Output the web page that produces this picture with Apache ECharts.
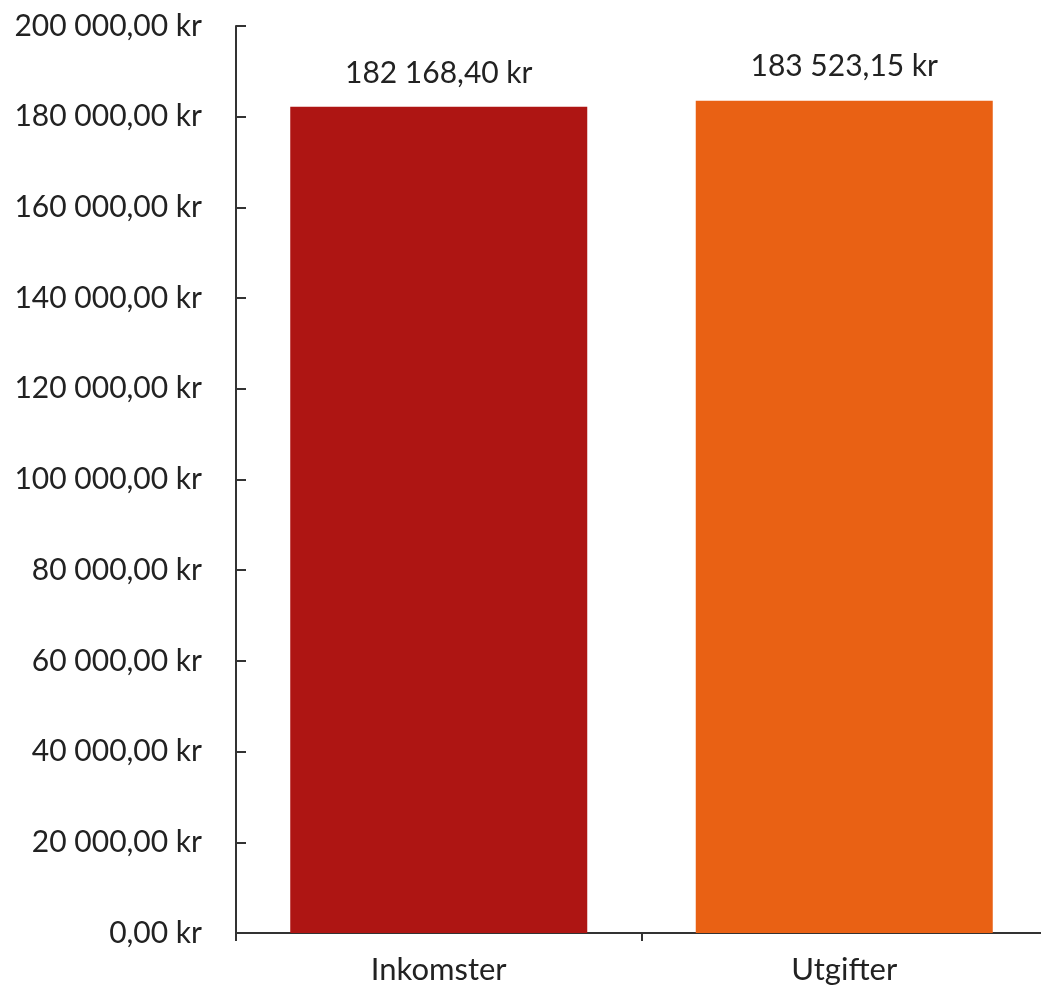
<!DOCTYPE html>
<html><head><meta charset="utf-8">
<script src="https://cdn.jsdelivr.net/npm/echarts@6/dist/echarts.min.js"></script>
<style>html,body{margin:0;padding:0;background:#fff;overflow:hidden}#c{width:1047px;height:992px}</style>
</head><body><div id="c"></div>
<script>
const categories = ["Inkomster", "Utgifter"];
const values = [182168.40, 183523.15];
const colors = ["#AE1513", "#E96114"];
const yTicks = [0, 20000, 40000, 60000, 80000, 100000, 120000, 140000, 160000, 180000, 200000];

function fmt(v) {
  const parts = v.toFixed(2).split(".");
  const intPart = parts[0].replace(/\B(?=(\d{3})+(?!\d))/g, " ");
  return intPart + "," + parts[1] + " kr";
}

const chart = echarts.init(document.getElementById("c"));
chart.setOption({
  animation: false,
  grid: { left: 236, right: 0, top: 26, bottom: 59, containLabel: false },
  xAxis: {
    type: "category",
    data: categories,
    axisLine: { lineStyle: { color: "#333", width: 2 } },
    axisTick: { show: true, length: 8, alignWithLabel: false, lineStyle: { color: "#333", width: 2 } },
    axisLabel: { color: "#222", fontSize: 31, fontFamily: "Lato", margin: 21 }
  },
  yAxis: {
    type: "value",
    min: yTicks[0],
    max: yTicks[yTicks.length - 1],
    interval: yTicks[1] - yTicks[0],
    splitLine: { show: false },
    axisLine: { show: true, lineStyle: { color: "#333", width: 2 } },
    axisTick: { show: true, inside: true, length: 10, lineStyle: { color: "#333", width: 2 } },
    axisLabel: { color: "#222", fontSize: 30, fontFamily: "Lato", margin: 34, formatter: fmt }
  },
  series: [{
    type: "bar",
    barWidth: 297,
    data: values.map((v, i) => ({ value: v, itemStyle: { color: colors[i] } })),
    label: {
      show: true, position: "top", distance: 19,
      color: "#222", fontSize: 30, fontFamily: "Lato",
      formatter: p => fmt(p.value)
    }
  }]
});
</script></body></html>
